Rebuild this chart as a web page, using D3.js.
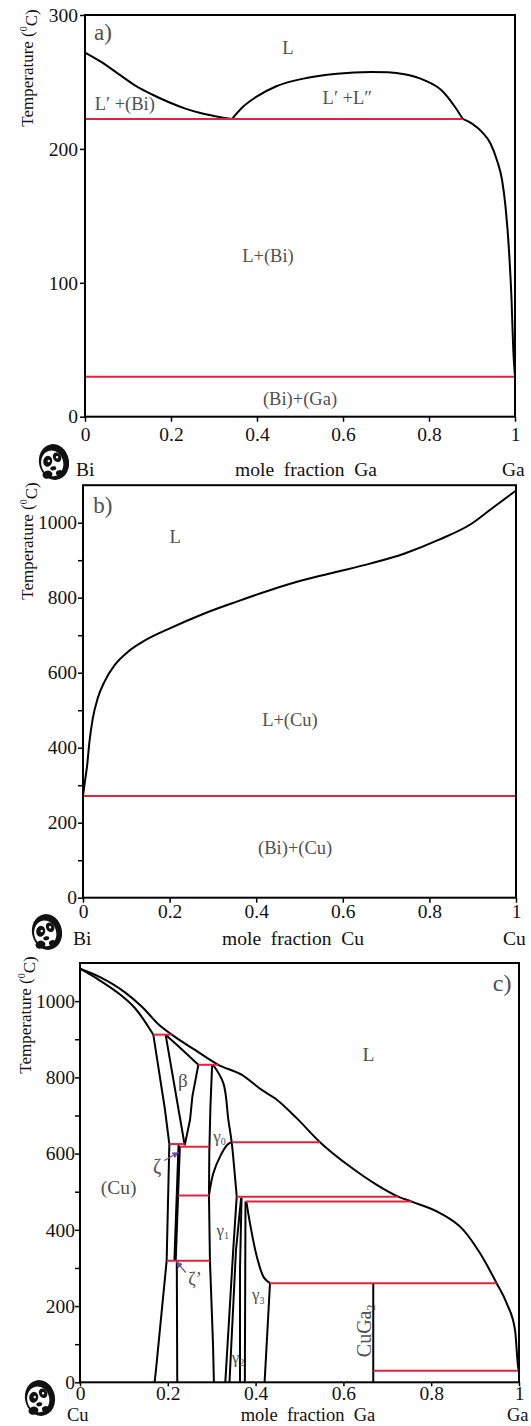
<!DOCTYPE html>
<html>
<head>
<meta charset="utf-8">
<script src="https://cdn.jsdelivr.net/npm/d3@7"></script>
<style>
body { margin: 0; background: #fff; }
svg text { font-family: "Liberation Serif", "Times New Roman", Times, serif; }
</style>
</head>
<body>
<svg id="chart" width="531" height="1426"></svg>
<script>
// ---- shared ----
const xTicks = [0, 0.2, 0.4, 0.6, 0.8, 1];

// ---- a) Bi-Ga ----
const biGaYTicks = [0, 100, 200, 300];
const biGaLiqLeft = [[0,272],[0.0376,265],[0.0768,256.2],[0.116,247.5],[0.155,240.8],[0.194,235],[0.2335,230.1],[0.273,226.4],[0.312,223.9],[0.342,222.4]];
const biGaDome = [[0.342,222.4],[0.3668,231.3],[0.398,238.8],[0.445,246.8],[0.508,252.5],[0.586,256.2],[0.665,257.5],[0.704,257.2],[0.743,255.7],[0.79,251.2],[0.829,243.8],[0.8605,231.3],[0.8785,222.4]];
const biGaLiqRight = [[0.8785,222.4],[0.9,218.9],[0.923,212.7],[0.943,204],[0.958,191.5],[0.970,176.6],[0.978,156.7],[0.986,124.4],[0.992,87],[0.996,49.8],[1,29.8]];
const biGaIsotherms = [[222.4,0,0.8785],[29.8,0,1]];   // [T, from, to]
const biGaLabels = [["a)",0.042,287,23],["L",0.472,276,18.5],["L\u2032 +(Bi)",0.0925,234,18.5],["L\u2032 +L\u2033",0.61,238,18.5],["L+(Bi)",0.4255,120.6,18.5],["(Bi)+(Ga)",0.5,13.7,18.5]];

// ---- b) Bi-Cu ----
const biCuYMajor = [0, 200, 400, 600, 800, 1000];
const biCuYMinor = [100, 300, 500, 700, 900];
const biCuLiquidus = [[0,271],[0.0045,310],[0.0093,350],[0.0148,415],[0.0226,478],[0.0343,533],[0.05,577],[0.073,620],[0.104,656],[0.143,686],[0.198,717],[0.276,756],[0.3536,789],[0.4315,820],[0.509,847],[0.587,869],[0.665,891.5],[0.743,918],[0.821,954],[0.899,998.5],[0.945,1038.6],[1,1086]];
const biCuIsotherms = [[271,0,1]];
const biCuLabels = [["b)",0.046,1047,23],["L",0.2126,963,18.5],["L+(Cu)",0.478,474,18.5],["(Bi)+(Cu)",0.49,135,18.5]];

// ---- c) Cu-Ga ----
const cuGaLiquidus = [[0,1085],[0.0456,1063],[0.1025,1023],[0.1405,986],[0.178,940],[0.209,912],[0.262,872],[0.315,833],[0.368,807],[0.414,767],[0.444,745],[0.4935,693],[0.5467,630],[0.615,566],[0.676,518],[0.725,487],[0.7555,474],[0.820,444],[0.873,400],[0.911,339],[0.949,260],[0.972,207],[0.991,137],[0.998,40],[1,30]];
const cuSolidus = [[0,1085],[0.0456,1054],[0.0873,1021],[0.125,982],[0.167,912]];
const betaSolidus = [[0.195,912],[0.2316,874],[0.2696,833]];
const cuSolvus = [[0.167,912],[0.1936,715],[0.2035,625],[0.1974,319],[0.173,32],[0.170,0]];
const betaLeft = [[0.195,912],[0.2385,622]];
const betaRight = [[0.2696,833],[0.256,750],[0.2506,688],[0.2385,622]];
const zetaLeft = [[0.2245,623],[0.2150,319]];
const zetaRight = [[0.2275,620],[0.2180,319]];
const zetaPrime = [[0.2205,319],[0.2215,0]];
const gammaLeft = [[0.301,833],[0.297,720],[0.2945,600],[0.2938,490],[0.296,319],[0.303,100],[0.305,0]];
const gamma0Right = [[0.303,833],[0.3265,785],[0.338,688],[0.3455,630],[0.353,540],[0.357,487]];
const gamma01 = [[0.2938,491],[0.3037,548.5],[0.319,592],[0.3356,623],[0.3455,630]];
const gamma1Right = [[0.357,487],[0.349,347],[0.331,0]];
const gamma2Left = [[0.367,484],[0.3553,347],[0.3405,0]];
const gamma2Right = [[0.368,484],[0.3645,300],[0.3645,0]];
const gamma3Left = [[0.377,474],[0.3755,0]];
const gamma3Right = [[0.379,474],[0.388,412],[0.403,329],[0.419,274.5],[0.4328,260]];
const gamma3Low = [[0.4328,260],[0.4205,0]];
const cuGa2Line = [[0.668,260],[0.668,0]];
const cuGaIsotherms = [[912,0.167,0.209],[833,0.2696,0.315],[630,0.3455,0.5467],[625,0.2035,0.2385],[618,0.2275,0.2945],[490,0.2235,0.2938],[487,0.357,0.725],[474,0.377,0.7555],[319,0.1974,0.296],[260,0.4328,0.949],[30,0.668,1]];
const cuGaLabels = [["c)",0.9615,1048,24],["L",0.657,860,19.5],["\u03b2",0.234,792,19],["(Cu)",0.0878,512,19.5],["\u03b6",0.176,567,20],["\u03b6\u2019",0.262,273,18]];
const gammaLabels = [["0",0.318,640],["1",0.325,393],["2",0.36,60],["3",0.406,224]];
const zetaArrows = [[[0.192,582],[0.224,603]],[[0.241,288],[0.22,316]]];

// ---- drawing ----
const svg = d3.select("#chart");
const RED = "#e2233e";
const GREY = "#505050";

svg.append("defs").append("marker")
    .attr("id", "arr")
    .attr("viewBox", "0 0 10 10")
    .attr("refX", 9).attr("refY", 5)
    .attr("markerWidth", 5).attr("markerHeight", 5)
    .attr("orient", "auto")
  .append("path")
    .attr("d", "M0,0L10,5L0,10z")
    .attr("fill", "#6a4ea6");

const panel = (box, yMax, yMajor, yMinor, pads) => {
    const x = d3.scaleLinear().domain([0, 1]).range([box.left, box.right]);
    const y = d3.scaleLinear().domain([0, yMax]).range([box.bottom, box.top]);
    const g = svg.append("g");

    g.append("g")
        .attr("transform", `translate(${box.left},0)`)
        .call(d3.axisLeft(y).tickValues(yMajor).tickSize(5).tickPadding(pads.y).tickFormat(d => d));
    if (yMinor) {
        g.append("g")
            .attr("transform", `translate(${box.left},0)`)
            .call(d3.axisLeft(y).tickValues(yMinor).tickSize(5).tickFormat(""));
    }
    g.append("g")
        .attr("transform", `translate(0,${box.bottom})`)
        .call(d3.axisBottom(x).tickValues(xTicks).tickSize(pads.xs || 5).tickPadding(pads.x).tickFormat(d => String(d)));

    g.selectAll(".domain").remove();
    g.selectAll(".tick line").attr("stroke", "#000").attr("stroke-width", 1.5);
    g.selectAll(".tick text")
        .attr("fill", "#111")
        .style("font-size", "19.5px")
        .style("font-family", '"Liberation Serif", "Times New Roman", Times, serif');

    return {x, y, g, box};
};

const drawCurve = (p, pts, curve) => {
    const line = d3.line()
        .x(d => p.x(d[0]))
        .y(d => p.y(d[1]))
        .curve(curve);
    p.g.append("path")
        .datum(pts)
        .attr("d", line)
        .attr("fill", "none")
        .attr("stroke", "#000")
        .attr("stroke-width", 2)
        .attr("stroke-linejoin", "round");
};

const drawIsotherms = (p, rows) => {
    p.g.selectAll(null)
        .data(rows)
        .enter().append("line")
        .attr("x1", d => p.x(d[1]))
        .attr("x2", d => p.x(d[2]))
        .attr("y1", d => p.y(d[0]))
        .attr("y2", d => p.y(d[0]))
        .attr("stroke", RED)
        .attr("stroke-width", 2);
};

const drawLabels = (p, rows) => {
    p.g.selectAll(null)
        .data(rows)
        .enter().append("text")
        .attr("x", d => p.x(d[1]))
        .attr("y", d => p.y(d[2]))
        .attr("dy", "0.35em")
        .attr("text-anchor", "middle")
        .style("font-size", d => d[3] + "px")
        .attr("fill", GREY)
        .text(d => d[0]);
};

const frame = p => {
    p.g.append("rect")
        .attr("x", p.box.left).attr("y", p.box.top)
        .attr("width", p.box.right - p.box.left)
        .attr("height", p.box.bottom - p.box.top)
        .attr("fill", "none")
        .attr("stroke", "#000")
        .attr("stroke-width", 2);
};

const yTitle = (cx, cy) => {
    const t = svg.append("text")
        .attr("transform", `translate(${cx},${cy}) rotate(-90)`)
        .attr("text-anchor", "middle")
        .attr("dy", "0.35em")
        .style("font-size", "17px")
        .attr("fill", "#111");
    t.append("tspan").text("Temperature (");
    t.append("tspan").style("font-size", "10px").attr("dy", "-0.6em").text("0");
    t.append("tspan").attr("dy", "0.6em").style("font-size", "17px").text("C)");
};

const bottomText = (y, size, left, lx, mid, mx, right, rx) => {
    svg.append("text").attr("x", lx).attr("y", y).style("font-size", size + "px").attr("fill", "#111").text(left);
    svg.append("text").attr("x", mx).attr("y", y).style("font-size", size + "px").attr("fill", "#111")
        .attr("text-anchor", "middle").style("white-space", "pre").text(mid);
    svg.append("text").attr("x", rx).attr("y", y).style("font-size", size + "px").attr("fill", "#111").text(right);
};

const panda = (cx, cy) => {
    const g = svg.append("g").attr("transform", `translate(${cx},${cy}) rotate(-12)`);
    g.append("ellipse").attr("rx", 15).attr("ry", 18).attr("fill", "#111");
    g.append("ellipse").attr("cx", -2).attr("cy", 1).attr("rx", 11).attr("ry", 13).attr("fill", "#fff");
    g.append("ellipse").attr("cx", -6).attr("cy", -2).attr("rx", 4.5).attr("ry", 5.5).attr("fill", "#111").attr("transform", "rotate(25,-6,-2)");
    g.append("ellipse").attr("cx", 4).attr("cy", -4).attr("rx", 4).attr("ry", 5).attr("fill", "#111").attr("transform", "rotate(-20,4,-4)");
    g.append("circle").attr("cx", -5).attr("cy", -2).attr("r", 1.2).attr("fill", "#fff");
    g.append("circle").attr("cx", 4).attr("cy", -4).attr("r", 1.2).attr("fill", "#fff");
    g.append("ellipse").attr("cx", -2).attr("cy", 6).attr("rx", 3).attr("ry", 2).attr("fill", "#111");
    g.append("ellipse").attr("cx", -9).attr("cy", 11).attr("rx", 5).attr("ry", 4).attr("fill", "#111");
    g.append("ellipse").attr("cx", 3).attr("cy", 12).attr("rx", 3.5).attr("ry", 3).attr("fill", "#111");
};

const smooth = d3.curveMonotoneX;
const bend = d3.curveCatmullRom.alpha(0.5);

// a)
const pa = panel({left: 85, right: 515, top: 15, bottom: 416.7}, 300, biGaYTicks, null, {x: 5, y: 2});
[biGaLiqLeft, biGaDome, biGaLiqRight].forEach(c => drawCurve(pa, c, smooth));
drawIsotherms(pa, biGaIsotherms);
drawLabels(pa, biGaLabels);
frame(pa);
yTitle(27, 68);
bottomText(476, 19.5, "Bi", 76, "mole  fraction  Ga", 306, "Ga", 502);
panda(54, 462);

// b)
const pb = panel({left: 83, right: 516, top: 485.2, bottom: 897.7}, 1100, biCuYMajor, biCuYMinor, {x: 1, y: 1});
drawCurve(pb, biCuLiquidus, smooth);
drawIsotherms(pb, biCuIsotherms);
drawLabels(pb, biCuLabels);
frame(pb);
yTitle(27, 541);
bottomText(945, 19.5, "Bi", 73, "mole  fraction  Cu", 293, "Cu", 503);
panda(47, 932);

// c)
const pc = panel({left: 80, right: 519, top: 963, bottom: 1382.3}, 1100, biCuYMajor, biCuYMinor, {x: 0, y: 0, xs: 4});
drawCurve(pc, cuGaLiquidus, smooth);
[cuSolidus, betaSolidus, gamma0Right, gamma01, gamma3Right].forEach(c => drawCurve(pc, c, bend));
[cuSolvus, betaLeft, betaRight, zetaLeft, zetaRight, zetaPrime, gammaLeft, gamma1Right,
 gamma2Left, gamma2Right, gamma3Left, gamma3Low, cuGa2Line].forEach(c => drawCurve(pc, c, d3.curveLinear));
drawIsotherms(pc, cuGaIsotherms);
drawLabels(pc, cuGaLabels);

const gl = pc.g.selectAll(null)
    .data(gammaLabels)
    .enter().append("text")
    .attr("x", d => pc.x(d[1]))
    .attr("y", d => pc.y(d[2]))
    .attr("dy", "0.2em")
    .attr("text-anchor", "middle")
    .style("font-size", "17px")
    .attr("fill", GREY);
gl.append("tspan").text("\u03b3");
gl.append("tspan").style("font-size", "10px").attr("dy", "0.35em").text(d => d[0]);

const cg = pc.g.append("text")
    .attr("transform", `translate(${pc.x(0.646)},${pc.y(135)}) rotate(-90)`)
    .attr("text-anchor", "middle")
    .attr("dy", "0.35em")
    .style("font-size", "20px")
    .attr("fill", GREY);
cg.append("tspan").text("CuGa");
cg.append("tspan").style("font-size", "12px").attr("dy", "0.35em").text("2");

pc.g.selectAll(null)
    .data(zetaArrows)
    .enter().append("line")
    .attr("x1", d => pc.x(d[0][0])).attr("y1", d => pc.y(d[0][1]))
    .attr("x2", d => pc.x(d[1][0])).attr("y2", d => pc.y(d[1][1]))
    .attr("stroke", "#6a4ea6")
    .attr("stroke-width", 1.3)
    .attr("marker-end", "url(#arr)");

frame(pc);
yTitle(25, 1015);
bottomText(1421, 18.5, "Cu", 67, "mole  fraction  Ga", 308, "Ga", 507);
panda(40, 1398);
</script>
</body>
</html>
